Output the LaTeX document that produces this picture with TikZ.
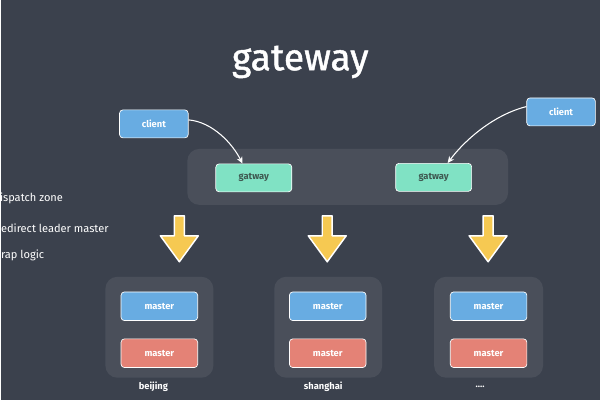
\documentclass[tikz,border=0pt]{standalone}
\usepackage{fontspec}
\setmainfont{Fira Sans}
\newfontfamily\titlefont[FakeBold=1.2]{Fira Sans}
\usetikzlibrary{arrows.meta}

\definecolor{board}{RGB}{59,65,77}
\definecolor{clientblue}{RGB}{104,172,226}
\definecolor{gwgreen}{RGB}{128,226,196}
\definecolor{gwtext}{RGB}{62,88,80}
\definecolor{masterred}{RGB}{228,130,118}
\definecolor{arrowyellow}{RGB}{246,201,82}

\tikzset{every picture/.style={line width=0.75pt}}
\tikzset{
  box/.style={rounded corners=2.5pt, draw=white!80, line width=0.5pt, text=white,
    font=\fontsize{7}{8}\selectfont\bfseries},
  clientbox/.style={box, fill=clientblue, minimum width=51.5pt, minimum height=21pt},
  gwbox/.style={box, fill=gwgreen, text=gwtext, minimum width=57pt, minimum height=21pt},
  bluemaster/.style={box, fill=clientblue, minimum width=57.5pt, minimum height=21.5pt},
  redmaster/.style={box, fill=masterred, minimum width=57.5pt, minimum height=21.5pt},
  zone/.style={fill=white, fill opacity=0.08, rounded corners=9pt},
  note/.style={text=white, anchor=west, inner sep=0pt, font=\fontsize{8.3}{10}\selectfont},
  city/.style={text=white, inner sep=0pt, font=\fontsize{7}{8}\selectfont\bfseries},
  flow/.style={draw=white, line width=0.8pt, -{Stealth[length=5pt,width=4.5pt]}},
  blockarrow/.style={fill=arrowyellow, draw=white, line width=1.1pt, line join=round}
}

\begin{document}
\begin{tikzpicture}[x=0.75pt,y=0.75pt,yscale=-1,xscale=1]
	%Background
	\fill[board] (0,0) rectangle (600,400);

	% Title
	\node (title) at (300,62) {\color{white}\titlefont\fontsize{28}{30}\selectfont gateway};

	%Shape: gateway zone
	\fill[zone] (187,149) rectangle (508,205);
	%Shape: region groups
	\fill[zone] (105,277) rectangle (213,378);
	\fill[zone] (274,277) rectangle (382,378);
	\fill[zone] (434,277) rectangle (543,378);

	% Clients and gateways
	\node[clientbox] (cl1) at (153.5,124) {client};
	\node[clientbox] (cl2) at (561,112) {client};
	\node[gwbox] (gw1) at (253.5,178) {gatway};
	\node[gwbox] (gw2) at (433.5,177.5) {gatway};

	%Curve Lines
	\draw[flow] ([yshift=-3pt]cl1.east) .. controls +(24,2) and +(-10,-20) .. ([xshift=-8.5pt]gw1.north);
	\draw[flow] ([yshift=-4pt]cl2.west) .. controls +(-32,8) and +(18,-24) .. ([xshift=10.5pt]gw2.north);

	% Notes
	\node[note] (n1) at (-1,199) {ispatch zone};
	\node[note] (n2) at (0,228) {edirect leader master};
	\node[note] (n3) at (0,256) {rap logic};

	%Shape: down arrows
	\draw[blockarrow] (174,216) -- (184,216) -- (184,236) -- (198,236) -- (179,262) -- (160,236) -- (174,236) -- cycle;
	\draw[blockarrow] (322,216) -- (332,216) -- (332,236) -- (346,236) -- (327,262) -- (308,236) -- (322,236) -- cycle;
	\draw[blockarrow] (483,216) -- (493,216) -- (493,236) -- (507,236) -- (488,262) -- (469,236) -- (483,236) -- cycle;

	% Masters
	\node[bluemaster] (bjm1) at (159,306.5) {master};
	\node[redmaster] (bjm2) at (159,353.5) {master};
	\node[bluemaster] (shm1) at (327.5,306.5) {master};
	\node[redmaster] (shm2) at (327.5,353.5) {master};
	\node[bluemaster] (otm1) at (488.5,306.5) {master};
	\node[redmaster] (otm2) at (488.5,353.5) {master};

	% Region labels
	\node[city] (bj) at (153,387) {beijing};
	\node[city] (sh) at (323,387) {shanghai};
	\node[city] (ot) at (480,387) {....};
\end{tikzpicture}
\end{document}
